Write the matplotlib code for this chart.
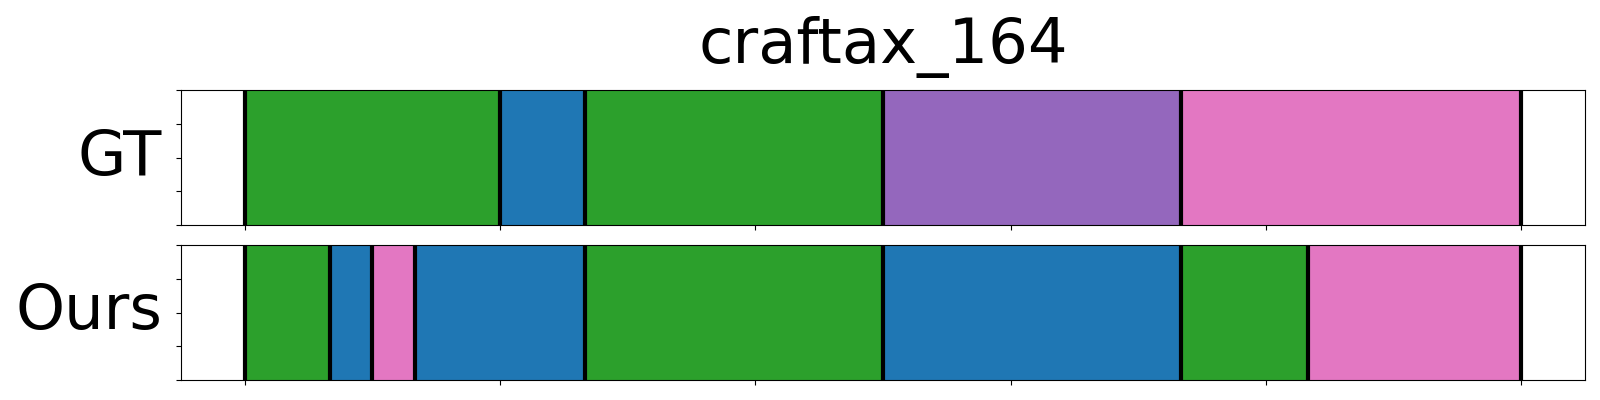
import matplotlib
matplotlib.use("Agg")
import matplotlib.pyplot as plt
import numpy as np

title = "craftax_164"
n_steps = 30

# segment boundaries (in steps) and the class of each segment
gt_bounds = [0, 6, 8, 15, 22, 30]
gt_classes = [2, 0, 2, 4, 6]
ours_bounds = [0, 2, 3, 4, 8, 15, 22, 25, 30]
ours_classes = [2, 0, 6, 0, 2, 0, 2, 6]

rows = [("GT", gt_bounds, gt_classes), ("Ours", ours_bounds, ours_classes)]

cmap = plt.get_cmap("tab10")

fig = plt.figure(figsize=(16, 4), dpi=100)
ax_top = fig.add_axes([0.1131, 0.4375, 0.8775, 0.3375])
ax_bot = fig.add_axes([0.1131, 0.05, 0.8775, 0.3375])

for ax, (name, bounds, classes) in zip([ax_top, ax_bot], rows):
    for start, end, cls in zip(bounds[:-1], bounds[1:], classes):
        ax.axvspan(start, end, color=cmap(cls), lw=0)
    for b in bounds:
        ax.axvline(b, color="black", lw=3)
    ax.set_xlim(-0.05 * n_steps, 1.05 * n_steps)
    ax.set_ylim(0, 1)
    ax.set_xticks(np.linspace(0, n_steps, 6))
    ax.set_yticks(np.linspace(0, 1, 5))
    ax.set_xticklabels([])
    ax.set_yticklabels([])
    ax.set_ylabel(name, fontsize=45, rotation=0, ha="right", va="center")
    ax.yaxis.set_label_coords(-0.0135, 0.5)

ax_top.set_title(title, fontsize=45, pad=19.5)

fig.savefig("out.png")
